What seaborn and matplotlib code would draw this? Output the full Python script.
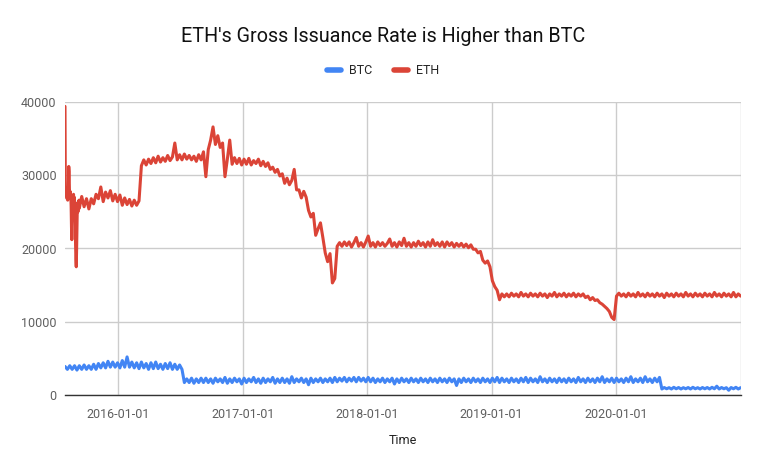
import numpy as np
import pandas as pd
import matplotlib
matplotlib.use("Agg")
import matplotlib.pyplot as plt
import seaborn as sns

# ---------------- data ----------------
series_names = ["BTC", "ETH"]
tick_dates = ["2016-01-01", "2017-01-01", "2018-01-01", "2019-01-01", "2020-01-01", "2021-01-01"]
tick_labels = ["2016-01-01", "2017-01-01", "2018-01-01", "2019-01-01", "2020-01-01", ""]
y_ticks = [0, 10000, 20000, 30000, 40000]

# ETH: daily values for the first six weeks (from 2015-07-30)
eth_daily_start = "2015-07-30"
eth_daily = [39400, 28500, 27600, 28200, 27200, 28000, 26800, 27400, 26600, 27800,
             28400, 31200, 30500, 28000, 27400, 27800, 26900, 27200, 25800, 23000,
             21200, 24500, 26800, 27200, 26900, 27400, 26500, 27000, 26200, 25500,
             23500, 20500, 18500, 17500, 19800, 23000, 25400, 26200, 25000, 26400,
             25800, 26600]

# ETH: weekly values from 2015-09-10
eth_weekly_start = "2015-09-10"
eth_weekly = [
    25500, 27100, 25700, 26800, 25400, 26800, 26100, 27400, 26800, 28400,
    26400, 27700, 26900, 27900, 26500, 27400, 26400, 27300, 25900, 26900,
    26000, 26700, 25800, 26600, 25900, 26500, 31300, 32100, 31400, 32200,
    31600, 32400, 31700, 32600, 31800, 32400, 31900, 32700, 32000, 32500,
    34400, 32100, 32800, 32100, 32900, 32200, 32700, 32100, 32600, 31900,
    32800, 32100, 33200, 29800, 33500, 34800, 36600, 34200, 35400, 33800,
    34400, 29800, 32200, 34800, 31500, 32400, 31600, 32300, 31400, 32200,
    31500, 32300, 31400, 32000, 31600, 32200, 31300, 31900, 31200, 31700,
    30800, 31100, 30400, 30800, 29900, 30200, 28900, 29600, 28700, 29300,
    30800, 28000, 28000, 26900, 27800, 27000, 25200, 24300, 24800, 21800,
    22700, 23500, 21500, 19400, 18200, 19300, 15300, 15900, 20300, 20800,
    20300, 20900, 20400, 20900, 20200, 20800, 21500, 20300, 20800, 20200,
    20900, 21700, 20300, 20800, 20200, 20900, 20400, 20800, 20300, 20700,
    21300, 20300, 20800, 20200, 20900, 20400, 21400, 20300, 20800, 20200,
    20800, 20300, 21000, 20400, 20800, 20200, 20900, 20300, 21200, 20400,
    20800, 20300, 20900, 20200, 20900, 20400, 20800, 20200, 20700, 20300,
    20700, 20200, 20600, 20100, 20500, 19900, 19900, 19400, 19600, 18400,
    18000, 18300, 17500, 15600, 14800, 14300, 13000, 13800, 13400, 13800,
    13400, 13900, 13500, 13800, 13400, 14000, 13500, 13800, 13400, 13900,
    13500, 13800, 13400, 13900, 13500, 13800, 13300, 13800, 13500, 14000,
    13400, 13800, 13500, 13900, 13400, 13800, 13500, 13900, 13400, 13800,
    13500, 13800, 13300, 13500, 13000, 13300, 12900, 13000, 12600, 12400,
    12100, 11800, 11400, 10600, 10300, 13500, 13900, 13500, 13800, 13400,
    13900, 13500, 13800, 13400, 14000, 13500, 13800, 13400, 13900, 13500,
    13800, 13400, 13900, 13500, 13800, 13300, 13900, 13500, 13800, 13400,
    13900, 13500, 13800, 13400, 14000, 13500, 13800, 13400, 13900, 13500,
    13800, 13400, 13900, 13500, 13800, 13400, 14000, 13500, 13800, 13400,
    13900, 13500, 13800, 13400, 14000, 13400, 13800, 13500,
]

# BTC: weekly values from 2015-07-30
btc_weekly_start = "2015-07-30"
btc_weekly = [
    3900, 3500, 4000, 3500, 4000, 3400, 4000, 3500, 4100, 3500,
    4000, 3500, 4200, 3500, 4300, 3700, 4400, 3700, 4600, 3800,
    4500, 3800, 4400, 3700, 4700, 3800, 5200, 3800, 4500, 3700,
    4400, 3600, 4500, 3700, 4300, 3500, 4400, 3600, 4500, 3600,
    4200, 3500, 4300, 3600, 4400, 3500, 4200, 3500, 4100, 3500,
    1700, 2200, 1700, 2300, 1600, 2200, 1700, 2300, 1700, 2300,
    1700, 2200, 1600, 2300, 1800, 2200, 1700, 2400, 1600, 2200,
    1700, 2300, 1800, 2200, 1500, 2300, 1700, 2200, 1800, 2400,
    1700, 2200, 1600, 2300, 1700, 2200, 1800, 2400, 1600, 2200,
    1700, 2300, 1700, 2200, 1600, 2500, 1700, 2200, 1800, 2300,
    1700, 2200, 1400, 2300, 1700, 2200, 1800, 2300, 1700, 2200,
    1800, 2300, 1700, 2400, 1800, 2300, 1900, 2400, 1800, 2300,
    1900, 2400, 1800, 2400, 1900, 2300, 1800, 2400, 1800, 2300,
    1700, 2200, 1800, 2300, 1700, 2200, 1800, 2300, 1500, 2200,
    1700, 2300, 1800, 2200, 1700, 2300, 1800, 2200, 1700, 2300,
    1800, 2200, 1700, 2300, 1800, 2200, 1700, 2300, 1800, 2200,
    1700, 2300, 1800, 2200, 1300, 2200, 1700, 2300, 1800, 2200,
    1700, 2300, 1800, 2200, 1700, 2300, 1800, 2200, 1700, 2300,
    1800, 2400, 1700, 2300, 1800, 2200, 1700, 2300, 1800, 2200,
    1700, 2300, 1800, 2400, 1700, 2300, 1800, 2200, 1700, 2500,
    1800, 2200, 1700, 2300, 1800, 2200, 1700, 2300, 1800, 2200,
    1700, 2300, 1800, 2200, 1700, 2400, 1800, 2200, 1700, 2300,
    1800, 2200, 1700, 2300, 1800, 2500, 1700, 2200, 1800, 2300,
    1700, 2300, 1800, 2200, 1700, 2300, 1800, 2500, 1700, 2200,
    1800, 2300, 1700, 2500, 1800, 2200, 1700, 2300, 1800, 2400,
    820, 1020, 850, 1000, 820, 1050, 850, 1020, 820, 1000,
    850, 1020, 820, 1050, 850, 1000, 820, 1020, 850, 1020,
    820, 1050, 850, 1200, 820, 1020, 850, 1000, 650, 1020,
    850, 1050, 820, 1000,
]

colors = {"BTC": "#4285F4", "ETH": "#DB4437"}

# ---------------- build frame ----------------
eth_dates = pd.date_range(eth_daily_start, periods=len(eth_daily), freq="D").append(
    pd.date_range(eth_weekly_start, periods=len(eth_weekly), freq="7D"))
btc_dates = pd.date_range(btc_weekly_start, periods=len(btc_weekly), freq="7D")
df = pd.concat([
    pd.DataFrame({"Time": btc_dates, "value": btc_weekly, "series": "BTC"}),
    pd.DataFrame({"Time": eth_dates, "value": eth_daily + eth_weekly, "series": "ETH"}),
], ignore_index=True)

# ---------------- plot ----------------
sns.set_style("white")
plt.rcParams["font.family"] = ["Roboto", "DejaVu Sans"]

fig = plt.figure(figsize=(7.66, 4.73), dpi=100)
ax = fig.add_axes([65 / 766, 78 / 473, 676 / 766, 293 / 473])

sns.lineplot(data=df, x="Time", y="value", hue="series", hue_order=series_names,
             palette=colors, estimator=None, linewidth=2.2, ax=ax, legend=False)

ax.set_xlim(pd.Timestamp("2015-07-30"), pd.Timestamp("2021-01-01"))
ax.set_ylim(0, 40000)
ax.set_yticks(y_ticks)
ax.set_yticklabels([str(v) for v in y_ticks])
ax.set_xticks(pd.to_datetime(tick_dates))
ax.set_xticklabels(tick_labels)
ax.grid(True, color="#cccccc", linewidth=1)
ax.set_axisbelow(True)
ax.tick_params(length=0, labelsize=9, colors="#5f5f5f", pad=6)
ax.tick_params(axis="x", pad=9)
for s in ["top", "right", "left"]:
    ax.spines[s].set_visible(False)
ax.spines["bottom"].set_color("#333333")
ax.spines["bottom"].set_linewidth(1)
ax.set_ylabel("")
ax.set_xlabel("Time", fontsize=9, color="#222222", labelpad=10)

fig.text(0.5, 1 - 37 / 473, "ETH's Gross Issuance Rate is Higher than BTC",
         ha="center", va="center", fontsize=14.2, color="#111111")

handles = [plt.Line2D([], [], color=colors[n], linewidth=4) for n in series_names]
fig.legend(handles, series_names, loc="center", bbox_to_anchor=(0.5, 1 - 71 / 473),
           ncol=2, frameon=False, fontsize=9, handlelength=1.1, handletextpad=0.6,
           columnspacing=1.8)

fig.savefig("out.png", dpi=100)
